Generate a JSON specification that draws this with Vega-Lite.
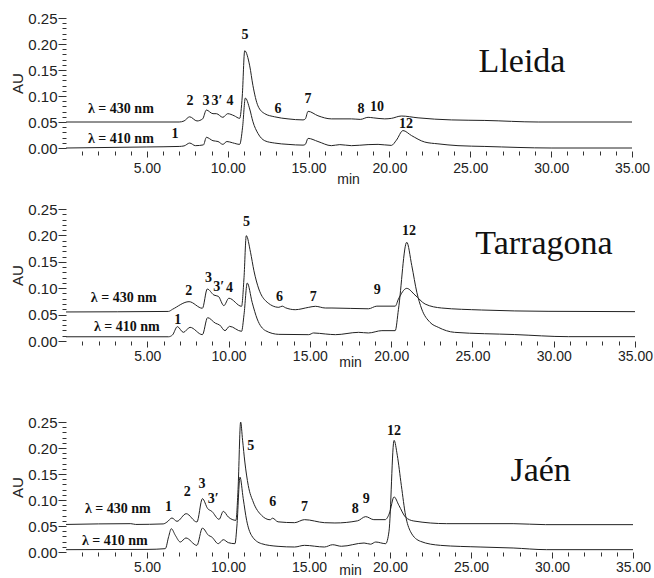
{
  "$schema": "https://vega.github.io/schema/vega-lite/v6.json",
  "background": "white",
  "padding": {"left": 10, "top": 11, "right": 4, "bottom": 0},
  "config": {
    "view": {"stroke": null},
    "font": "Liberation Sans",
    "axis": {"grid": false, "domain": false, "labelFont": "Liberation Sans", "titleFont": "Liberation Sans", "labelColor": "#222", "titleColor": "#222", "tickColor": "#333", "titleFontWeight": "normal", "labelOverlap": false, "labelFlush": false}
  },
  "datasets": {
    "lleida": [
      {"nm": 430, "t": 0, "au": 0.05}, {"nm": 430, "t": 7.0, "au": 0.05}, {"nm": 430, "t": 7.3, "au": 0.052}, {"nm": 430, "t": 7.65, "au": 0.06}, {"nm": 430, "t": 8.1, "au": 0.052}, {"nm": 430, "t": 8.45, "au": 0.056}, {"nm": 430, "t": 8.68, "au": 0.073}, {"nm": 430, "t": 9.09, "au": 0.066}, {"nm": 430, "t": 9.3, "au": 0.066}, {"nm": 430, "t": 9.7, "au": 0.059}, {"nm": 430, "t": 10.0, "au": 0.066}, {"nm": 430, "t": 10.4, "au": 0.062}, {"nm": 430, "t": 10.74, "au": 0.057}, {"nm": 430, "t": 10.9, "au": 0.1}, {"nm": 430, "t": 11.05, "au": 0.187}, {"nm": 430, "t": 11.36, "au": 0.158}, {"nm": 430, "t": 11.56, "au": 0.12}, {"nm": 430, "t": 11.87, "au": 0.081}, {"nm": 430, "t": 12.29, "au": 0.066}, {"nm": 430, "t": 12.9, "au": 0.06}, {"nm": 430, "t": 13.73, "au": 0.056}, {"nm": 430, "t": 14.66, "au": 0.054}, {"nm": 430, "t": 14.8, "au": 0.056}, {"nm": 430, "t": 14.97, "au": 0.0705}, {"nm": 430, "t": 15.58, "au": 0.062}, {"nm": 430, "t": 16.41, "au": 0.056}, {"nm": 430, "t": 17.65, "au": 0.056}, {"nm": 430, "t": 18.2, "au": 0.055}, {"nm": 430, "t": 18.68, "au": 0.059}, {"nm": 430, "t": 19.0, "au": 0.058}, {"nm": 430, "t": 19.71, "au": 0.056}, {"nm": 430, "t": 20.12, "au": 0.057}, {"nm": 430, "t": 20.74, "au": 0.0615}, {"nm": 430, "t": 21.77, "au": 0.058}, {"nm": 430, "t": 23.83, "au": 0.054}, {"nm": 430, "t": 25.9, "au": 0.053}, {"nm": 430, "t": 29.2, "au": 0.05}, {"nm": 430, "t": 35, "au": 0.05},
      {"nm": 410, "t": 0, "au": 0}, {"nm": 410, "t": 5, "au": 0.002}, {"nm": 410, "t": 7.0, "au": 0.003}, {"nm": 410, "t": 7.3, "au": 0.004}, {"nm": 410, "t": 7.65, "au": 0.0095}, {"nm": 410, "t": 8.0, "au": 0.0045}, {"nm": 410, "t": 8.5, "au": 0.006}, {"nm": 410, "t": 8.68, "au": 0.0205}, {"nm": 410, "t": 9.09, "au": 0.014}, {"nm": 410, "t": 9.4, "au": 0.0125}, {"nm": 410, "t": 9.7, "au": 0.007}, {"nm": 410, "t": 9.95, "au": 0.0125}, {"nm": 410, "t": 10.3, "au": 0.01}, {"nm": 410, "t": 10.74, "au": 0.007}, {"nm": 410, "t": 10.92, "au": 0.04}, {"nm": 410, "t": 11.09, "au": 0.096}, {"nm": 410, "t": 11.36, "au": 0.075}, {"nm": 410, "t": 11.56, "au": 0.0505}, {"nm": 410, "t": 11.87, "au": 0.028}, {"nm": 410, "t": 12.29, "au": 0.014}, {"nm": 410, "t": 12.9, "au": 0.0095}, {"nm": 410, "t": 13.73, "au": 0.007}, {"nm": 410, "t": 14.66, "au": 0.0055}, {"nm": 410, "t": 14.8, "au": 0.007}, {"nm": 410, "t": 14.97, "au": 0.0185}, {"nm": 410, "t": 15.58, "au": 0.0125}, {"nm": 410, "t": 16.41, "au": 0.0045}, {"nm": 410, "t": 16.93, "au": 0.0065}, {"nm": 410, "t": 17.65, "au": 0.0045}, {"nm": 410, "t": 18.68, "au": 0.0065}, {"nm": 410, "t": 19.3, "au": 0.007}, {"nm": 410, "t": 20.12, "au": 0.005}, {"nm": 410, "t": 20.43, "au": 0.015}, {"nm": 410, "t": 20.84, "au": 0.0335}, {"nm": 410, "t": 21.36, "au": 0.024}, {"nm": 410, "t": 22.18, "au": 0.0115}, {"nm": 410, "t": 23.0, "au": 0.008}, {"nm": 410, "t": 24.24, "au": 0.0045}, {"nm": 410, "t": 25.9, "au": 0.003}, {"nm": 410, "t": 30.0, "au": 0}, {"nm": 410, "t": 35, "au": 0}
    ],
    "tarragona": [
      {"nm": 430, "t": 0, "au": 0.055}, {"nm": 430, "t": 6.3, "au": 0.056}, {"nm": 430, "t": 6.55, "au": 0.06}, {"nm": 430, "t": 7.57, "au": 0.0745}, {"nm": 430, "t": 8.39, "au": 0.062}, {"nm": 430, "t": 8.69, "au": 0.0985}, {"nm": 430, "t": 9.1, "au": 0.087}, {"nm": 430, "t": 9.37, "au": 0.0846}, {"nm": 430, "t": 9.71, "au": 0.067}, {"nm": 430, "t": 10.02, "au": 0.081}, {"nm": 430, "t": 10.8, "au": 0.0657}, {"nm": 430, "t": 10.95, "au": 0.12}, {"nm": 430, "t": 11.09, "au": 0.1995}, {"nm": 430, "t": 11.35, "au": 0.168}, {"nm": 430, "t": 11.56, "au": 0.133}, {"nm": 430, "t": 11.86, "au": 0.0985}, {"nm": 430, "t": 12.27, "au": 0.0764}, {"nm": 430, "t": 13.09, "au": 0.0638}, {"nm": 430, "t": 13.3, "au": 0.066}, {"nm": 430, "t": 13.5, "au": 0.063}, {"nm": 430, "t": 14.1, "au": 0.0593}, {"nm": 430, "t": 14.93, "au": 0.0638}, {"nm": 430, "t": 15.34, "au": 0.0657}, {"nm": 430, "t": 15.95, "au": 0.0625}, {"nm": 430, "t": 16.36, "au": 0.0625}, {"nm": 430, "t": 18.6, "au": 0.061}, {"nm": 430, "t": 19.12, "au": 0.066}, {"nm": 430, "t": 20.25, "au": 0.066}, {"nm": 430, "t": 20.45, "au": 0.0795}, {"nm": 430, "t": 20.96, "au": 0.0997}, {"nm": 430, "t": 21.47, "au": 0.087}, {"nm": 430, "t": 22.09, "au": 0.07}, {"nm": 430, "t": 23.1, "au": 0.0625}, {"nm": 430, "t": 25.56, "au": 0.0587}, {"nm": 430, "t": 29.65, "au": 0.0562}, {"nm": 430, "t": 35, "au": 0.0556},
      {"nm": 410, "t": 0, "au": 0.008}, {"nm": 410, "t": 6.3, "au": 0.008}, {"nm": 410, "t": 6.55, "au": 0.0114}, {"nm": 410, "t": 6.85, "au": 0.0272}, {"nm": 410, "t": 7.22, "au": 0.0164}, {"nm": 410, "t": 7.63, "au": 0.0259}, {"nm": 410, "t": 8.39, "au": 0.012}, {"nm": 410, "t": 8.71, "au": 0.0442}, {"nm": 410, "t": 9.2, "au": 0.0335}, {"nm": 410, "t": 9.45, "au": 0.0303}, {"nm": 410, "t": 9.78, "au": 0.0196}, {"nm": 410, "t": 10.06, "au": 0.0278}, {"nm": 410, "t": 10.8, "au": 0.0183}, {"nm": 410, "t": 10.95, "au": 0.05}, {"nm": 410, "t": 11.15, "au": 0.1098}, {"nm": 410, "t": 11.45, "au": 0.0732}, {"nm": 410, "t": 11.76, "au": 0.0417}, {"nm": 410, "t": 12.27, "au": 0.0196}, {"nm": 410, "t": 13.09, "au": 0.0126}, {"nm": 410, "t": 14.93, "au": 0.012}, {"nm": 410, "t": 15.23, "au": 0.0152}, {"nm": 410, "t": 15.95, "au": 0.0133}, {"nm": 410, "t": 16.57, "au": 0.012}, {"nm": 410, "t": 18.0, "au": 0.0164}, {"nm": 410, "t": 18.6, "au": 0.0152}, {"nm": 410, "t": 19.43, "au": 0.0196}, {"nm": 410, "t": 20.25, "au": 0.0196}, {"nm": 410, "t": 20.45, "au": 0.06}, {"nm": 410, "t": 20.96, "au": 0.187}, {"nm": 410, "t": 21.27, "au": 0.1427}, {"nm": 410, "t": 21.58, "au": 0.0922}, {"nm": 410, "t": 21.88, "au": 0.0606}, {"nm": 410, "t": 22.39, "au": 0.0354}, {"nm": 410, "t": 22.9, "au": 0.0259}, {"nm": 410, "t": 23.9, "au": 0.0164}, {"nm": 410, "t": 27.6, "au": 0.0122}, {"nm": 410, "t": 30.9, "au": 0.0082}, {"nm": 410, "t": 35, "au": 0.0082}
    ],
    "jaen": [
      {"nm": 430, "t": 0, "au": 0.053}, {"nm": 430, "t": 4.0, "au": 0.0545}, {"nm": 430, "t": 4.3, "au": 0.053}, {"nm": 430, "t": 6.0, "au": 0.054}, {"nm": 430, "t": 6.24, "au": 0.0577}, {"nm": 430, "t": 6.54, "au": 0.0654}, {"nm": 430, "t": 6.85, "au": 0.059}, {"nm": 430, "t": 7.42, "au": 0.0737}, {"nm": 430, "t": 8.08, "au": 0.0577}, {"nm": 430, "t": 8.42, "au": 0.1026}, {"nm": 430, "t": 8.75, "au": 0.0833}, {"nm": 430, "t": 9.0, "au": 0.0782}, {"nm": 430, "t": 9.45, "au": 0.0628}, {"nm": 430, "t": 9.71, "au": 0.0782}, {"nm": 430, "t": 10.02, "au": 0.0673}, {"nm": 430, "t": 10.49, "au": 0.0609}, {"nm": 430, "t": 10.62, "au": 0.12}, {"nm": 430, "t": 10.78, "au": 0.25}, {"nm": 430, "t": 10.9, "au": 0.215}, {"nm": 430, "t": 11.04, "au": 0.173}, {"nm": 430, "t": 11.25, "au": 0.128}, {"nm": 430, "t": 11.56, "au": 0.096}, {"nm": 430, "t": 12.07, "au": 0.0705}, {"nm": 430, "t": 12.6, "au": 0.062}, {"nm": 430, "t": 12.75, "au": 0.065}, {"nm": 430, "t": 13.09, "au": 0.058}, {"nm": 430, "t": 14.11, "au": 0.0564}, {"nm": 430, "t": 14.72, "au": 0.0622}, {"nm": 430, "t": 15.95, "au": 0.0564}, {"nm": 430, "t": 16.6, "au": 0.0558}, {"nm": 430, "t": 18.0, "au": 0.06}, {"nm": 430, "t": 18.5, "au": 0.068}, {"nm": 430, "t": 19.0, "au": 0.0622}, {"nm": 430, "t": 19.7, "au": 0.0622}, {"nm": 430, "t": 19.97, "au": 0.075}, {"nm": 430, "t": 20.25, "au": 0.106}, {"nm": 430, "t": 20.55, "au": 0.0897}, {"nm": 430, "t": 20.96, "au": 0.067}, {"nm": 430, "t": 21.47, "au": 0.0596}, {"nm": 430, "t": 23.5, "au": 0.0545}, {"nm": 430, "t": 27.6, "au": 0.0545}, {"nm": 430, "t": 29.6, "au": 0.0526}, {"nm": 430, "t": 35, "au": 0.0526},
      {"nm": 410, "t": 0, "au": 0.0045}, {"nm": 410, "t": 5.0, "au": 0.005}, {"nm": 410, "t": 6.13, "au": 0.0064}, {"nm": 410, "t": 6.34, "au": 0.03}, {"nm": 410, "t": 6.5, "au": 0.0448}, {"nm": 410, "t": 6.75, "au": 0.032}, {"nm": 410, "t": 7.06, "au": 0.0192}, {"nm": 410, "t": 7.4, "au": 0.027}, {"nm": 410, "t": 8.08, "au": 0.0128}, {"nm": 410, "t": 8.42, "au": 0.046}, {"nm": 410, "t": 8.8, "au": 0.032}, {"nm": 410, "t": 9.0, "au": 0.0288}, {"nm": 410, "t": 9.4, "au": 0.016}, {"nm": 410, "t": 9.71, "au": 0.0237}, {"nm": 410, "t": 10.02, "au": 0.018}, {"nm": 410, "t": 10.43, "au": 0.016}, {"nm": 410, "t": 10.55, "au": 0.05}, {"nm": 410, "t": 10.74, "au": 0.144}, {"nm": 410, "t": 10.94, "au": 0.1026}, {"nm": 410, "t": 11.15, "au": 0.061}, {"nm": 410, "t": 11.45, "au": 0.032}, {"nm": 410, "t": 12.07, "au": 0.016}, {"nm": 410, "t": 13.09, "au": 0.0109}, {"nm": 410, "t": 14.11, "au": 0.0096}, {"nm": 410, "t": 14.72, "au": 0.0128}, {"nm": 410, "t": 15.95, "au": 0.0096}, {"nm": 410, "t": 16.46, "au": 0.014}, {"nm": 410, "t": 17.0, "au": 0.011}, {"nm": 410, "t": 18.4, "au": 0.0173}, {"nm": 410, "t": 18.8, "au": 0.015}, {"nm": 410, "t": 19.12, "au": 0.0192}, {"nm": 410, "t": 19.73, "au": 0.016}, {"nm": 410, "t": 19.94, "au": 0.04}, {"nm": 410, "t": 20.25, "au": 0.2147}, {"nm": 410, "t": 20.45, "au": 0.186}, {"nm": 410, "t": 20.7, "au": 0.128}, {"nm": 410, "t": 20.96, "au": 0.0705}, {"nm": 410, "t": 21.27, "au": 0.039}, {"nm": 410, "t": 21.88, "au": 0.0205}, {"nm": 410, "t": 23.11, "au": 0.0128}, {"nm": 410, "t": 25.56, "au": 0.0096}, {"nm": 410, "t": 27.6, "au": 0.0077}, {"nm": 410, "t": 29.65, "au": 0.0045}, {"nm": 410, "t": 35, "au": 0.0045}
    ],
    "lleida_labels": [
      {"kind": "peak", "label": "1", "t": 6.74, "au": 0.027}, {"kind": "peak", "label": "2", "t": 7.67, "au": 0.09}, {"kind": "peak", "label": "3", "t": 8.66, "au": 0.09}, {"kind": "peak", "label": "3′", "t": 9.34, "au": 0.09}, {"kind": "peak", "label": "4", "t": 10.14, "au": 0.09}, {"kind": "peak", "label": "5", "t": 11.07, "au": 0.217}, {"kind": "peak", "label": "6", "t": 13.11, "au": 0.075}, {"kind": "peak", "label": "7", "t": 14.97, "au": 0.094}, {"kind": "peak", "label": "8", "t": 18.24, "au": 0.075}, {"kind": "peak", "label": "10", "t": 19.23, "au": 0.079}, {"kind": "peak", "label": "12", "t": 21.03, "au": 0.046},
      {"kind": "wl", "label": "λ = 430 nm", "t": 1.36, "au": 0.075}, {"kind": "wl", "label": "λ = 410 nm", "t": 1.36, "au": 0.017},
      {"kind": "site", "label": "Lleida", "t": 28.2, "au": 0.146}
    ],
    "tarragona_labels": [
      {"kind": "peak", "label": "1", "t": 6.87, "au": 0.04}, {"kind": "peak", "label": "2", "t": 7.55, "au": 0.095}, {"kind": "peak", "label": "3", "t": 8.77, "au": 0.119}, {"kind": "peak", "label": "3′", "t": 9.39, "au": 0.102}, {"kind": "peak", "label": "4", "t": 10.06, "au": 0.1}, {"kind": "peak", "label": "5", "t": 11.1, "au": 0.225}, {"kind": "peak", "label": "6", "t": 13.13, "au": 0.083}, {"kind": "peak", "label": "7", "t": 15.21, "au": 0.083}, {"kind": "peak", "label": "9", "t": 19.14, "au": 0.097}, {"kind": "peak", "label": "12", "t": 21.1, "au": 0.208},
      {"kind": "wl", "label": "λ = 430 nm", "t": 1.53, "au": 0.081}, {"kind": "wl", "label": "λ = 410 nm", "t": 1.72, "au": 0.027},
      {"kind": "site", "label": "Tarragona", "t": 29.4, "au": 0.165}
    ],
    "jaen_labels": [
      {"kind": "peak", "label": "1", "t": 6.32, "au": 0.087}, {"kind": "peak", "label": "2", "t": 7.48, "au": 0.116}, {"kind": "peak", "label": "3", "t": 8.4, "au": 0.131}, {"kind": "peak", "label": "3′", "t": 9.08, "au": 0.101}, {"kind": "peak", "label": "5", "t": 11.41, "au": 0.204}, {"kind": "peak", "label": "6", "t": 12.76, "au": 0.097}, {"kind": "peak", "label": "7", "t": 14.72, "au": 0.087}, {"kind": "peak", "label": "8", "t": 17.85, "au": 0.083}, {"kind": "peak", "label": "9", "t": 18.53, "au": 0.101}, {"kind": "peak", "label": "12", "t": 20.25, "au": 0.233},
      {"kind": "wl", "label": "λ = 430 nm", "t": 1.17, "au": 0.083}, {"kind": "wl", "label": "λ = 410 nm", "t": 0.98, "au": 0.022},
      {"kind": "site", "label": "Jaén", "t": 29.3, "au": 0.137}
    ]
  },
  "bounds": "flush",
  "spacing": 61,
  "vconcat": [
    {
      "width": 566, "height": 130,
      "encoding": {
        "x": {"field": "t", "type": "quantitative", "scale": {"domain": [0, 35]},
          "axis": {"values": [1,2,3,4,5,6,7,8,9,10,11,12,13,14,15,16,17,18,19,20,21,22,23,24,25,26,27,28,29,30,31,32,33,34,35],
            "labelExpr": "datum.value % 5 == 0 ? format(datum.value, '.2f') : ''",
            "tickSize": {"condition": {"test": "datum.value % 5 == 0", "value": 6}, "value": 4},
            "offset": 3, "labelPadding": 4, "labelFontSize": 14, "title": "min", "titleFontSize": 14, "titleX": 282, "titleY": 32, "titleBaseline": "alphabetic"}},
        "y": {"field": "au", "type": "quantitative", "scale": {"domain": [0, 0.25]},
          "axis": {"values": [0,0.01,0.02,0.03,0.04,0.05,0.06,0.07,0.08,0.09,0.1,0.11,0.12,0.13,0.14,0.15,0.16,0.17,0.18,0.19,0.2,0.21,0.22,0.23,0.24,0.25],
            "labelExpr": "round(datum.value * 100) % 5 == 0 ? format(datum.value, '.2f') : ''",
            "tickSize": {"condition": {"test": "round(datum.value * 100) % 5 == 0", "value": 8}, "value": 4},
            "labelPadding": 1, "labelFontSize": 15, "title": "AU", "titleFontSize": 15, "titlePadding": 2}}
      },
      "layer": [
        {"data": {"name": "lleida"}, "mark": {"type": "line", "color": "#222", "strokeWidth": 1, "interpolate": "monotone"}, "encoding": {"detail": {"field": "nm"}}},
        {"data": {"name": "lleida_labels"}, "transform": [{"filter": "datum.kind == 'peak'"}], "mark": {"type": "text", "font": "Liberation Serif", "fontWeight": "bold", "fontSize": 14, "baseline": "middle", "color": "#111"}, "encoding": {"text": {"field": "label"}}},
        {"data": {"name": "lleida_labels"}, "transform": [{"filter": "datum.kind == 'wl'"}], "mark": {"type": "text", "font": "Liberation Serif", "fontWeight": "bold", "fontSize": 14, "baseline": "middle", "align": "left", "color": "#111"}, "encoding": {"text": {"field": "label"}}},
        {"data": {"name": "lleida_labels"}, "transform": [{"filter": "datum.kind == 'site'"}], "mark": {"type": "text", "font": "Liberation Serif", "fontSize": 34, "baseline": "alphabetic", "align": "center", "color": "#111"}, "encoding": {"text": {"field": "label"}}}
      ]
    },
    {
      "bounds": "flush",
      "spacing": 81,
      "vconcat": [
        {
          "width": 569, "height": 132,
          "encoding": {
            "x": {"field": "t", "type": "quantitative", "scale": {"domain": [0, 35]},
              "axis": {"values": [1,2,3,4,5,6,7,8,9,10,11,12,13,14,15,16,17,18,19,20,21,22,23,24,25,26,27,28,29,30,31,32,33,34,35],
                "labelExpr": "datum.value % 5 == 0 ? format(datum.value, '.2f') : ''",
                "tickSize": {"condition": {"test": "datum.value % 5 == 0", "value": 6}, "value": 4},
                "offset": 0, "labelPadding": 2, "labelFontSize": 14, "title": "min", "titleFontSize": 14, "titleX": 284, "titleY": 25, "titleBaseline": "alphabetic"}},
            "y": {"field": "au", "type": "quantitative", "scale": {"domain": [0, 0.25]},
              "axis": {"values": [0,0.01,0.02,0.03,0.04,0.05,0.06,0.07,0.08,0.09,0.1,0.11,0.12,0.13,0.14,0.15,0.16,0.17,0.18,0.19,0.2,0.21,0.22,0.23,0.24,0.25],
                "labelExpr": "round(datum.value * 100) % 5 == 0 ? format(datum.value, '.2f') : ''",
                "tickSize": {"condition": {"test": "round(datum.value * 100) % 5 == 0", "value": 8}, "value": 4},
                "labelPadding": 1, "labelFontSize": 15, "title": "AU", "titleFontSize": 15, "titlePadding": 2}}
          },
          "layer": [
            {"data": {"name": "tarragona"}, "mark": {"type": "line", "color": "#222", "strokeWidth": 1, "interpolate": "monotone"}, "encoding": {"detail": {"field": "nm"}}},
            {"data": {"name": "tarragona_labels"}, "transform": [{"filter": "datum.kind == 'peak'"}], "mark": {"type": "text", "font": "Liberation Serif", "fontWeight": "bold", "fontSize": 14, "baseline": "middle", "color": "#111"}, "encoding": {"text": {"field": "label"}}},
            {"data": {"name": "tarragona_labels"}, "transform": [{"filter": "datum.kind == 'wl'"}], "mark": {"type": "text", "font": "Liberation Serif", "fontWeight": "bold", "fontSize": 14, "baseline": "middle", "align": "left", "color": "#111"}, "encoding": {"text": {"field": "label"}}},
            {"data": {"name": "tarragona_labels"}, "transform": [{"filter": "datum.kind == 'site'"}], "mark": {"type": "text", "font": "Liberation Serif", "fontSize": 34, "baseline": "alphabetic", "align": "center", "color": "#111"}, "encoding": {"text": {"field": "label"}}}
          ]
        },
        {
          "width": 567, "height": 130,
          "encoding": {
            "x": {"field": "t", "type": "quantitative", "scale": {"domain": [0, 35]},
              "axis": {"values": [1,2,3,4,5,6,7,8,9,10,11,12,13,14,15,16,17,18,19,20,21,22,23,24,25,26,27,28,29,30,31,32,33,34,35],
                "labelExpr": "datum.value % 5 == 0 ? format(datum.value, '.2f') : ''",
                "tickSize": {"condition": {"test": "datum.value % 5 == 0", "value": 6}, "value": 4},
                "offset": 0, "labelPadding": 2, "labelFontSize": 14, "title": "min", "titleFontSize": 14, "titleX": 284, "titleY": 22, "titleBaseline": "alphabetic"}},
            "y": {"field": "au", "type": "quantitative", "scale": {"domain": [0, 0.25]},
              "axis": {"values": [0,0.01,0.02,0.03,0.04,0.05,0.06,0.07,0.08,0.09,0.1,0.11,0.12,0.13,0.14,0.15,0.16,0.17,0.18,0.19,0.2,0.21,0.22,0.23,0.24,0.25],
                "labelExpr": "round(datum.value * 100) % 5 == 0 ? format(datum.value, '.2f') : ''",
                "tickSize": {"condition": {"test": "round(datum.value * 100) % 5 == 0", "value": 8}, "value": 4},
                "labelPadding": 1, "labelFontSize": 15, "title": "AU", "titleFontSize": 15, "titlePadding": 2}}
          },
          "layer": [
            {"data": {"name": "jaen"}, "mark": {"type": "line", "color": "#222", "strokeWidth": 1, "interpolate": "monotone"}, "encoding": {"detail": {"field": "nm"}}},
            {"data": {"name": "jaen_labels"}, "transform": [{"filter": "datum.kind == 'peak'"}], "mark": {"type": "text", "font": "Liberation Serif", "fontWeight": "bold", "fontSize": 14, "baseline": "middle", "color": "#111"}, "encoding": {"text": {"field": "label"}}},
            {"data": {"name": "jaen_labels"}, "transform": [{"filter": "datum.kind == 'wl'"}], "mark": {"type": "text", "font": "Liberation Serif", "fontWeight": "bold", "fontSize": 14, "baseline": "middle", "align": "left", "color": "#111"}, "encoding": {"text": {"field": "label"}}},
            {"data": {"name": "jaen_labels"}, "transform": [{"filter": "datum.kind == 'site'"}], "mark": {"type": "text", "font": "Liberation Serif", "fontSize": 34, "baseline": "alphabetic", "align": "center", "color": "#111"}, "encoding": {"text": {"field": "label"}}}
          ]
        }
      ]
    }
  ]
}
